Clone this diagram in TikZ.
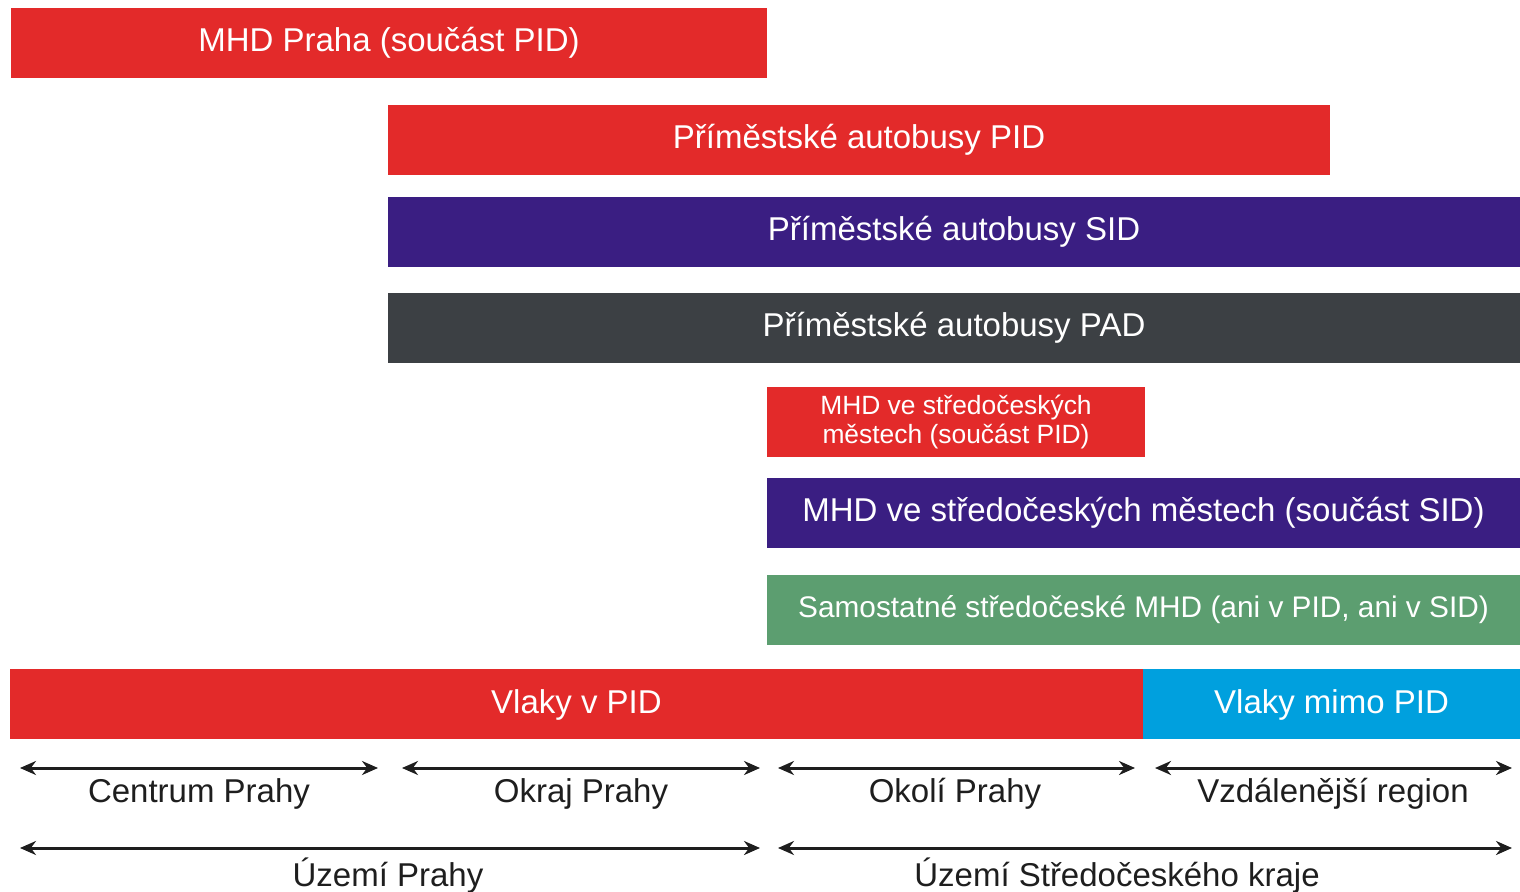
\documentclass[tikz,border=0pt]{standalone}
\usepackage{fontspec}
\setmainfont{Liberation Sans}
\usetikzlibrary{arrows.meta}
\definecolor{cred}{RGB}{227,42,42}
\definecolor{cpurple}{RGB}{58,30,130}
\definecolor{cgray}{RGB}{60,64,68}
\definecolor{cgreen}{RGB}{92,158,112}
\definecolor{cblue}{RGB}{0,160,222}
\definecolor{ctext}{RGB}{30,30,30}
\tikzset{
  bar/.style={rectangle, inner sep=0pt, outer sep=0pt, minimum height=35pt, text=white,
              font=\fontsize{16.5pt}{19pt}\selectfont},
  lbl/.style={anchor=base, text=ctext, font=\fontsize{16.5pt}{19pt}\selectfont},
  dim/.style={{Stealth[length=8pt,width=7pt]}-{Stealth[length=8pt,width=7pt]}, line width=1.5pt, draw=ctext}
}
\begin{document}
\begin{tikzpicture}[x=0.5pt,y=-0.5pt]
\useasboundingbox[fill=white] (0,0) rectangle (1520,892);
\node[bar, fill=cred, minimum width=378pt] (mhdpraha) at (389,43) {MHD Praha (součást PID)};
\node[bar, fill=cred, minimum width=471pt] (pid) at (859,140) {Příměstské autobusy PID};
\node[bar, fill=cpurple, minimum width=566pt] (sid) at (954,232) {Příměstské autobusy SID};
\node[bar, fill=cgray, minimum width=566pt] (pad) at (954,328) {Příměstské autobusy PAD};
\node[bar, fill=cred, minimum width=189pt, align=center, font=\fontsize{13.2pt}{14.5pt}\selectfont] (mhdpid) at (956,422) {MHD ve středočeských\\městech (součást PID)};
\node[bar, fill=cpurple, minimum width=376.5pt] (mhdsid) at (1143.5,513) {MHD ve středočeských městech (součást SID)};
\node[bar, fill=cgreen, minimum width=376.5pt, font=\fontsize{14.9pt}{17pt}\selectfont] (samo) at (1143.5,610) {Samostatné středočeské MHD (ani v PID, ani v SID)};
\node[bar, fill=cred, minimum width=566.5pt, text depth=2.5pt] (vlpid) at (576.5,704) {Vlaky v PID};
\node[bar, fill=cblue, minimum width=188.5pt, text depth=2.5pt] (vlmimo) at (1331.5,704) {Vlaky mimo PID};
% dimension arrows
\coordinate (a1) at (20,768); \coordinate (a2) at (378,768);
\coordinate (b1) at (402,768); \coordinate (b2) at (760,768);
\coordinate (c1) at (778,768); \coordinate (c2) at (1135,768);
\coordinate (d1) at (1155,768); \coordinate (d2) at (1512,768);
\coordinate (e1) at (20,848); \coordinate (e2) at (760,848);
\coordinate (f1) at (778,848); \coordinate (f2) at (1512,848);
\draw[dim] (a1) -- (a2);
\draw[dim] (b1) -- (b2);
\draw[dim] (c1) -- (c2);
\draw[dim] (d1) -- (d2);
\draw[dim] (e1) -- (e2);
\draw[dim] (f1) -- (f2);
\node[lbl] (centrum) at (199,802) {Centrum Prahy};
\node[lbl] (okraj) at (581,802) {Okraj Prahy};
\node[lbl] (okoli) at (955,802) {Okolí Prahy};
\node[lbl] (vzdal) at (1333,802) {Vzdálenější region};
\node[lbl] (uzemi) at (388,886) {Území Prahy};
\node[lbl] (uzemis) at (1117,886) {Území Středočeského kraje};
\end{tikzpicture}
\end{document}
